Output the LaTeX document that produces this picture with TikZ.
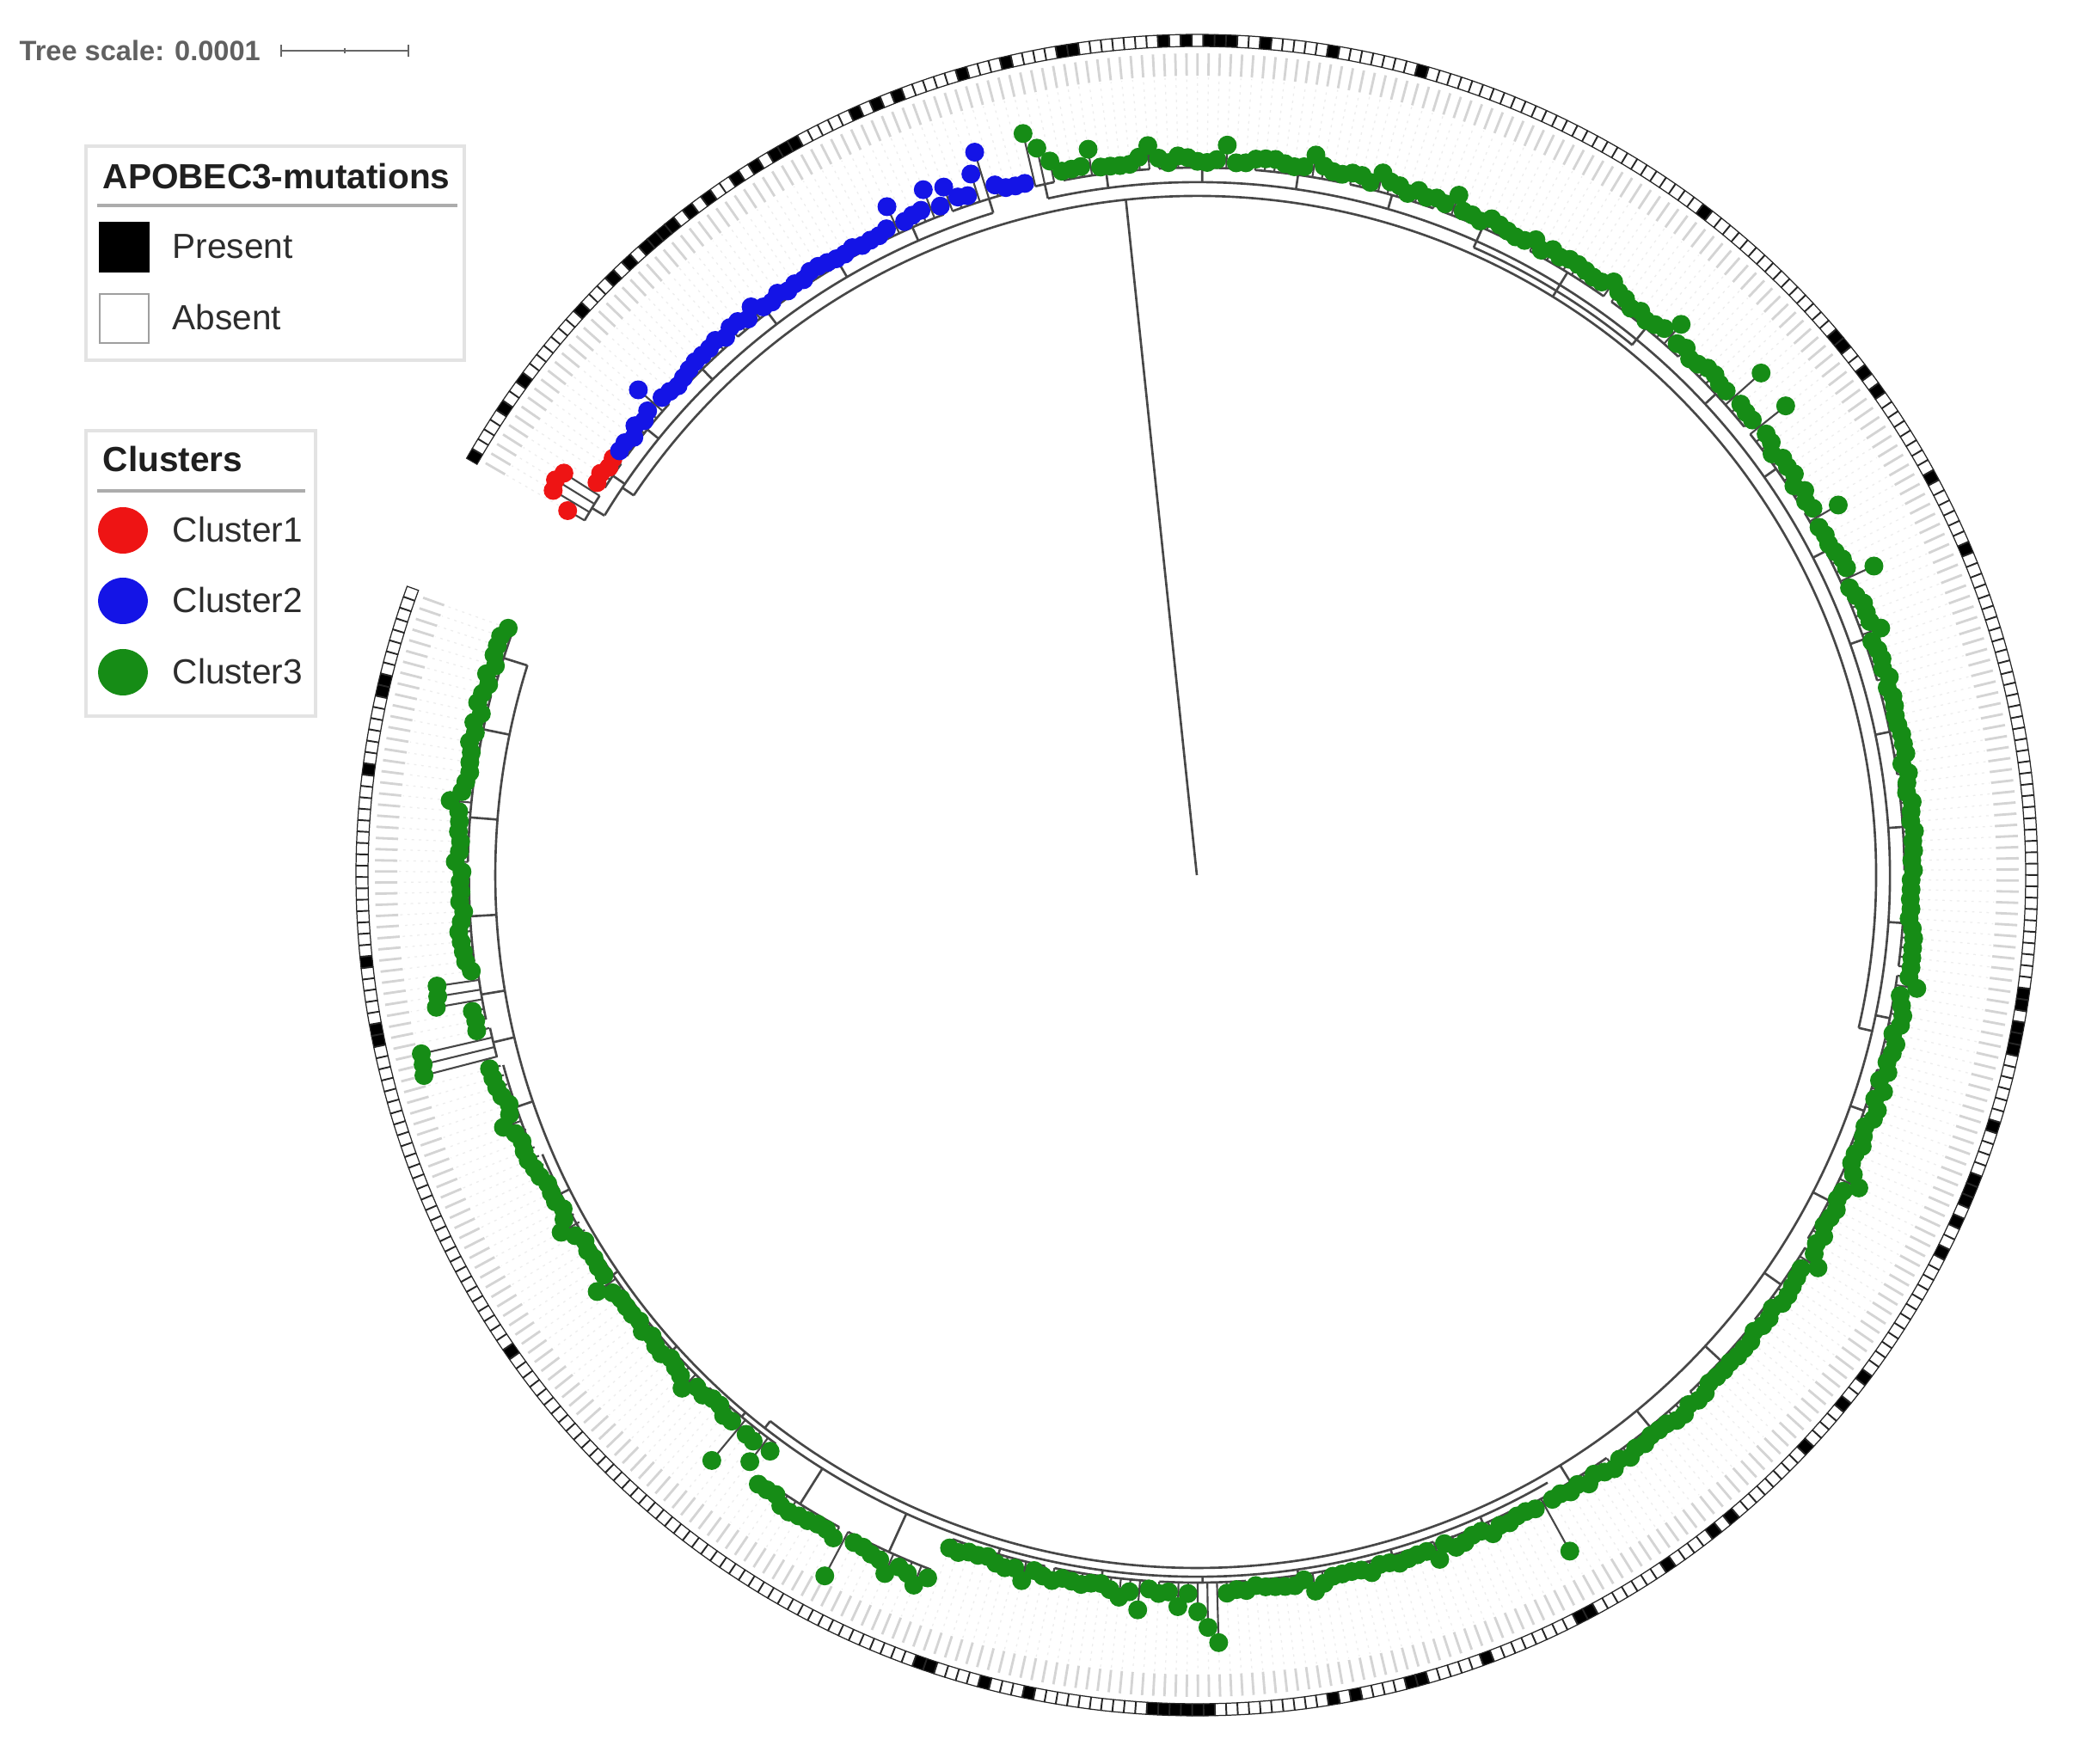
\documentclass[tikz,border=0pt]{standalone}
\usepackage{fontspec}
\setmainfont{Liberation Sans}
\definecolor{cred}{RGB}{238,20,20}
\definecolor{cblue}{RGB}{20,20,230}
\definecolor{cgreen}{RGB}{22,140,22}
\definecolor{legtxt}{RGB}{45,45,45}
\def\setol#1#2{\expandafter\def\csname ol#1\endcsname{#2}}
\def\setbk#1{\expandafter\def\csname bk#1\endcsname{}}
% outliers (extra radius in px)
\setol{0}{12}\setol{1}{38}\setol{2}{42}\setol{3}{36}
\setol{14}{27}\setol{28}{10}\setol{45}{22}\setol{49}{26}\setol{51}{20}\setol{54}{23}\setol{55}{50}
\setol{60}{55}\setol{61}{35}\setol{62}{15}\setol{66}{18}\setol{72}{14}\setol{80}{12}\setol{89}{17}
\setol{96}{10}\setol{104}{15}\setol{122}{12}\setol{130}{24}\setol{139}{49}\setol{143}{38}
\setol{154}{29}\setol{161}{29}\setol{167}{15}\setol{204}{17}\setol{225}{15}\setol{234}{12}
\setol{271}{60}\setol{283}{15}\setol{296}{12}\setol{306}{62}\setol{307}{40}\setol{308}{25}
\setol{310}{15}\setol{314}{25}\setol{316}{15}\setol{326}{15}\setol{336}{12}\setol{339}{18}
\setol{344}{50}\setol{359}{55}\setol{356}{20}\setol{366}{12}\setol{379}{12}\setol{386}{10}
\setol{398}{10}\setol{405}{80}\setol{406}{75}\setol{407}{70}\setol{411}{45}\setol{412}{40}
\setol{413}{35}\setol{431}{12}
% forced black boxes
\setbk{0}\setbk{74}\setbk{76}\setbk{78}\setbk{79}\setbk{80}\setbk{307}\setbk{308}\setbk{309}
\setbk{310}\setbk{311}\setbk{312}\setbk{20}\setbk{22}\setbk{24}\setbk{25}\setbk{27}\setbk{29}
\setbk{31}\setbk{5}\setbk{40}\setbk{48}
\tikzset{
  br/.style={draw=black!72, line width=0.75pt},
  legbox/.style={draw=gray!22, line width=1.2pt, fill=white},
  legtitle/.style={anchor=base west, inner sep=0pt, text=black!88, font=\bfseries\fontsize{11.55}{13}\selectfont},
  legitem/.style={anchor=base west, inner sep=0pt, text=legtxt, font=\fontsize{11.55}{13}\selectfont},
  tickln/.style={draw=gray!34, line width=0.8pt},
  guide/.style={draw=gray!14, line width=0.35pt, dash pattern=on 0.8pt off 1.6pt},
}
\begin{document}
\begin{tikzpicture}[x=1cm,y=1cm,
  declare function={rb(\t)=830+25*max(0,1-((\t+185)/35)*((\t+185)/35))+8*max(0,1-((\t+45)/25)*((\t+45)/25));}]
\useasboundingbox (0,0) rectangle (24.18,20.51);
\fill[white] (0,0) rectangle (24.18,20.51);

% ---------- scale bar ----------
\node[anchor=base west, inner sep=0pt, text=black!62, font=\bfseries\fontsize{9.27}{11}\selectfont] (scaletxt) at (0.22,19.80) {Tree scale: 0.0001};
\coordinate (sb1) at (3.27,19.92);
\coordinate (sb2) at (4.75,19.92);
\draw[black!60, line width=0.8pt] (sb1) -- (sb2);
\draw[black!60, line width=0.8pt] ([yshift=-0.07cm]sb1) -- ([yshift=0.07cm]sb1);
\draw[black!60, line width=0.8pt] ([yshift=-0.07cm]sb2) -- ([yshift=0.07cm]sb2);
\draw[black!60, line width=0.6pt] (4.01,19.89) -- (4.01,19.95);

% ---------- legend 1 ----------
\draw[legbox] (1.00,16.32) rectangle (5.40,18.81);
\node[legtitle] (apotitle) at (1.19,18.31) {APOBEC3-mutations};
\draw[gray!65, line width=1pt] (1.13,18.12) -- (5.32,18.12);
\draw[black, fill=black] (1.16,17.35) rectangle (1.73,17.92);
\node[legitem] (present) at (2.00,17.50) {Present};
\draw[gray!75, line width=0.8pt, fill=white] (1.16,16.52) rectangle (1.73,17.09);
\node[legitem] (absent) at (2.00,16.67) {Absent};

% ---------- legend 2 ----------
\draw[legbox] (1.00,12.18) rectangle (3.67,15.50);
\node[legtitle] (cltitle) at (1.19,15.02) {Clusters};
\draw[gray!65, line width=1pt] (1.13,14.80) -- (3.55,14.80);
\fill[cred] (1.43,14.34) ellipse [x radius=0.29, y radius=0.27];
\fill[cblue] (1.43,13.52) ellipse [x radius=0.29, y radius=0.27];
\fill[cgreen] (1.43,12.69) ellipse [x radius=0.29, y radius=0.27];
\node[legitem] (c1) at (2.00,14.20) {Cluster1};
\node[legitem] (c2) at (2.00,13.38) {Cluster2};
\node[legitem] (c3) at (2.00,12.55) {Cluster3};

% ---------- circular tree ----------
\begin{scope}[shift={(13.92,10.33)}]
  % outer ring of boxes
  \pgfmathsetseed{311}
  \foreach \i in {0,...,449}{
    \pgfmathsetmacro\a{150.3-(\i+0.5)*0.7787}
    \pgfmathtruncatemacro\blk{rnd<0.13}
    \ifcsname bk\i\endcsname\def\blk{1}\fi
    \ifnum\blk=1 \def\fc{black}\else\def\fc{white}\fi
    \node[draw=black!85, line width=0.35pt, fill=\fc, rotate=\a, minimum width=0.14cm,
          minimum height=0.125cm, inner sep=0pt, outer sep=0pt] at (\a:9.71) {};
    \draw[tickln] (\a:9.30) -- (\a:9.56);
  }
  % backbone arcs
  \draw[br] (0,0) -- (96:7.90);
  \draw[br] (146:7.90) arc[start angle=146, end angle=-13, radius=7.90cm];
  \draw[br] (146:7.90) -- (146:8.06);
  \draw[br] (148.7:8.06) arc[start angle=148.7, end angle=107.1, radius=8.06cm];
  \draw[br] (-13:7.90) -- (-13:8.06);
  \draw[br] (102.4:8.06) arc[start angle=102.4, end angle=-128, radius=8.06cm];
  \draw[br] (-128:8.06) -- (-128:8.16);
  \draw[br] (-60:8.16) arc[start angle=-60, end angle=-197.4, radius=8.16cm];
  \draw[br] (58.4:7.90) -- (58.4:7.98);
  \draw[br] (66.2:7.98) arc[start angle=66.2, end angle=50.6, radius=7.98cm];
  % clade groups
  \foreach \s/\e in {0/3,4/7,8/15,16/24,25/33,34/42,43/50,51/59,
     60/62,63/72,73/82,83/92,93/102,103/112,113/122,123/132,133/142,143/152,153/162,
     163/172,173/182,183/192,193/202,203/212,213/222,223/232,233/242,243/252,253/262,
     263/272,273/282,283/292,293/302,303/312,313/323,324/334,335/344,345/354,355/364,
     365/374,375/384,385/394,395/404,405/408,409/414,415/424,425/434,435/442,443/449}{
    \pgfmathsetmacro\aa{150.3-(\s+0.5)*0.7787}
    \pgfmathsetmacro\ab{150.3-(\e+0.5)*0.7787}
    \pgfmathsetmacro\am{(\aa+\ab)/2}
    \pgfmathsetmacro\rg{rb(\am)-7}
    \ifnum\s>334 \ifnum\e<355 \pgfmathsetmacro\rg{\rg+42}\fi\fi
    \pgfmathsetmacro\rgc{\rg/100}
    \pgfmathsetmacro\rp{((\am<68)&&(\am>44)) ? 7.98 : ((\am>-60) ? 8.06 : 8.16)}
    \draw[br] (\aa:\rgc) arc[start angle=\aa, end angle=\ab, radius=\rgc cm];
    \draw[br] (\am:\rp) -- (\am:\rgc);
  }
  % leaves
  \pgfmathsetseed{97}
  \foreach \i in {0,...,449}{
    \pgfmathsetmacro\a{150.3-(\i+0.5)*0.7787}
    \pgfmathsetmacro\rbb{rb(\a)}
    \ifnum\i>334 \ifnum\i<355 \pgfmathsetmacro\rbb{\rbb+42}\fi\fi
    \ifcsname ol\i\endcsname\edef\ex{\csname ol\i\endcsname}\else\def\ex{0}\fi
    \pgfmathsetmacro\rl{(\rbb+rnd*9-1+\ex)/100}
    \pgfmathsetmacro\rn{(\rbb-7)/100}
    \pgfmathsetmacro\rgd{\rl+0.12}
    \ifnum\i<8 \def\col{cred}\else\ifnum\i<60 \def\col{cblue}\else\def\col{cgreen}\fi\fi
    \draw[guide] (\a:\rgd) -- (\a:9.28);
    \draw[br, line width=0.6pt] (\a:\rn) -- (\a:\rl);
    \fill[\col] (\a:\rl) circle (0.11cm);
  }
\end{scope}
\end{tikzpicture}
\end{document}
